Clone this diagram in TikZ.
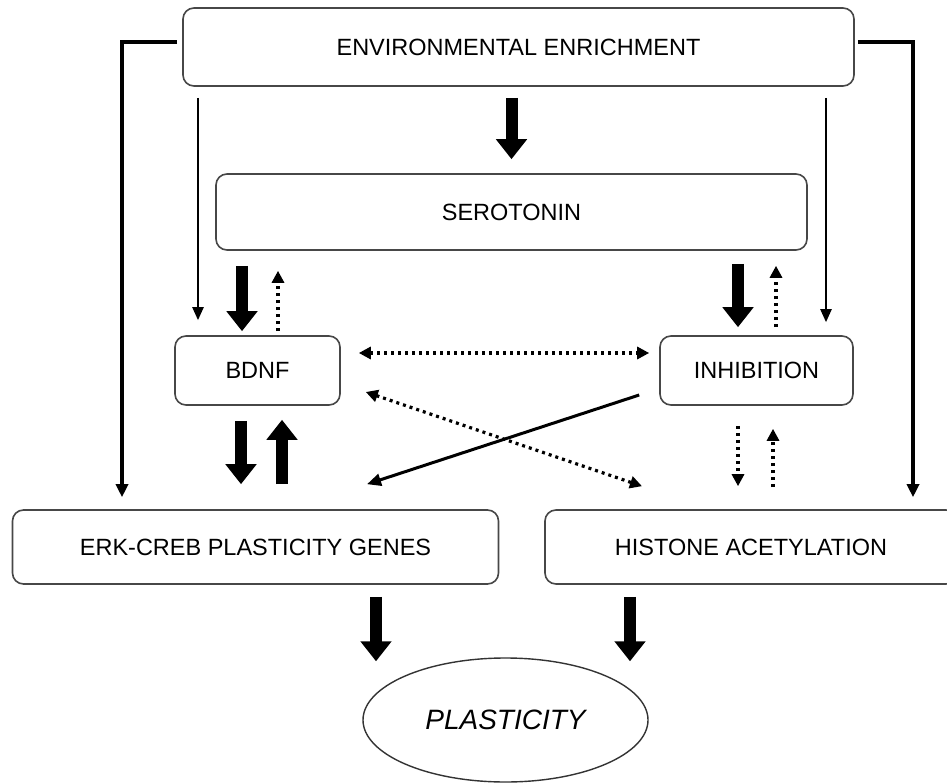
\documentclass[tikz,border=0pt]{standalone}
\usepackage{fontspec}
\setmainfont{Liberation Sans}
\usetikzlibrary{arrows.meta,calc,shapes.geometric}
\begin{document}
\begin{tikzpicture}[x=1pt,y=-1pt,
  box/.style={draw=black!72, line width=1.6pt, rounded corners=11pt, inner sep=0pt, font=\fontsize{23.5}{27}\selectfont},
  bigarrow/.style={line width=12pt, -{Triangle[length=20pt,width=30pt]}},
  thinarrow/.style={line width=2.3pt, -{Triangle[length=13pt,width=11pt]}},
  outerarrow/.style={line width=3.5pt, miter limit=10, -{Triangle[length=13pt,width=12pt]}},
  solidarrow/.style={line width=3pt, -{Triangle[length=14pt,width=12pt]}},
  dotarrow/.style={line width=3.2pt, dash pattern=on 3pt off 4pt, -{Triangle[length=12pt,width=12pt]}},
  dotboth/.style={line width=3.2pt, dash pattern=on 3pt off 4pt, {Triangle[length=12pt,width=12pt]}-{Triangle[length=12pt,width=12pt]}},
]
\useasboundingbox (0,0) rectangle (947,783);
\clip (0,0) rectangle (947,783);
\fill[white] (0,0) rectangle (947,783);

% boxes
\node[box, minimum width=671pt, minimum height=78pt] (ee) at (518.5,47) {ENVIRONMENTAL ENRICHMENT};
\node[box, minimum width=591pt, minimum height=76pt] (sero) at (511.5,212) {SEROTONIN};
\node[box, minimum width=165pt, minimum height=69pt] (bdnf) at (257.5,370.5) {BDNF};
\node[box, minimum width=193pt, minimum height=69pt] (inhib) at (756.5,370.5) {INHIBITION};
\node[box, minimum width=486pt, minimum height=74pt] (erk) at (255.5,547) {ERK-CREB PLASTICITY GENES};
\node[box, minimum width=412pt, minimum height=74pt] (hist) at (751,547) {HISTONE ACETYLATION};
\node[draw=black!80, line width=1.4pt, ellipse, inner sep=0pt, minimum width=285pt, minimum height=124pt,
      font=\fontsize{28}{32}\selectfont\itshape] (plast) at (505.5,720) {PLASTICITY};

% helper coordinates
\coordinate (sb1) at ($(bdnf.north)+(-15.5,0)$);
\coordinate (sb2) at ($(bdnf.north)+(20.5,0)$);
\coordinate (si1) at ($(inhib.north)+(-18.5,0)$);
\coordinate (si2) at ($(inhib.north)+(19.5,0)$);
\coordinate (eb) at ($(bdnf.north)+(-59.5,0)$);
\coordinate (ei) at ($(inhib.north)+(69.5,0)$);
\coordinate (el) at ($(erk.north)+(-133.5,0)$);
\coordinate (hr) at ($(hist.north)+(162,0)$);
\coordinate (be1) at ($(bdnf.south)+(-16.5,0)$);
\coordinate (be2) at ($(bdnf.south)+(24.5,0)$);
\coordinate (ih1) at ($(inhib.south)+(-18.5,0)$);
\coordinate (ih2) at ($(inhib.south)+(16.5,0)$);
\coordinate (d1) at ($(bdnf.east)+(25,21.5)$);
\coordinate (d2) at ($(hist.north)+(-109,-23)$);
\coordinate (s1) at ($(inhib.west)+(-20,24.5)$);
\coordinate (s2) at ($(erk.north)+(111.5,-25)$);
\coordinate (p1) at ($(plast.north)+(-129.5,4)$);
\coordinate (p2) at ($(plast.north)+(124.5,4)$);

% thick arrows
\draw[bigarrow, shorten <=11pt, shorten >=14pt] (ee.south -| sero.north) -- (sero.north);
\draw[bigarrow, shorten <=15pt, shorten >=4pt] (sero.south -| sb1) -- (sb1);
\draw[bigarrow, shorten <=13pt, shorten >=8pt] (sero.south -| si1) -- (si1);
\draw[bigarrow, shorten <=15pt, shorten >=25pt] (be1) -- (erk.north -| be1);
\draw[bigarrow, shorten <=25pt, shorten >=14pt] (erk.north -| be2) -- (be2);
\draw[bigarrow, shorten <=12pt] (erk.south -| p1) -- (p1);
\draw[bigarrow, shorten <=12pt] (hist.south -| p2) -- (p2);

% dotted arrows
\draw[dotarrow, shorten <=4pt, shorten >=20pt] (sb2) -- (sero.south -| sb2);
\draw[dotarrow, shorten <=8pt, shorten >=15pt] (si2) -- (sero.south -| si2);
\draw[dotboth, shorten <=18pt, shorten >=10pt] ([yshift=17.5pt]bdnf.east) -- ([yshift=17.5pt]inhib.west);
\draw[dotboth] (d1) -- (d2);
\draw[dotarrow, shorten <=20pt, shorten >=23pt] (ih1) -- (hist.north -| ih1);
\draw[dotarrow, shorten <=22pt, shorten >=23pt] (hist.north -| ih2) -- (ih2);

% thin arrows
\draw[thinarrow, shorten <=11pt, shorten >=15pt] (ee.south -| eb) -- (eb);
\draw[thinarrow, shorten <=11pt, shorten >=13pt] (ee.south -| ei) -- (ei);

% solid diagonal
\draw[solidarrow] (s1) -- (s2);

% outer feedback lines
\draw[outerarrow, shorten <=5pt, shorten >=12pt] ([yshift=5pt]ee.west) -| (el);
\draw[outerarrow, shorten <=3pt, shorten >=12pt] ([yshift=5pt]ee.east) -| (hr);
\end{tikzpicture}
\end{document}
